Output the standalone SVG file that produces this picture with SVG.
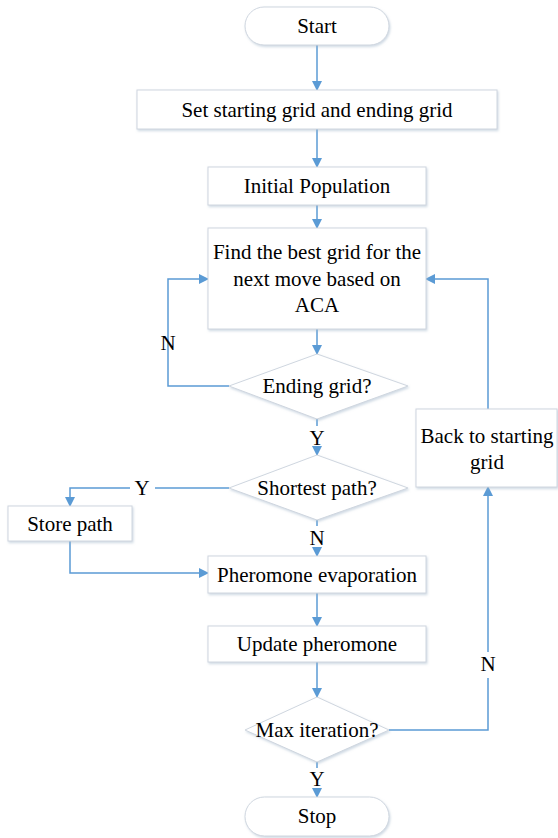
<svg xmlns="http://www.w3.org/2000/svg" width="558" height="838" viewBox="0 0 558 838">
<defs>
<marker id="ah" markerWidth="10" markerHeight="10" refX="9" refY="5" orient="auto" markerUnits="userSpaceOnUse">
<path d="M0,0 L10,5 L0,10 Z" fill="#5b9bd5"/>
</marker>
<filter id="sh" x="-10%" y="-10%" width="120%" height="130%">
<feDropShadow dx="1" dy="1.5" stdDeviation="1.2" flood-color="#9fb3c8" flood-opacity="0.5"/>
</filter>
</defs>
<style>
.box{fill:#fff;stroke:#cfd6df;stroke-width:1;filter:url(#sh)}
.t{font-family:"Liberation Serif","Times New Roman",serif;font-size:21px;fill:#000;text-anchor:middle}
.c{fill:none;stroke:#5b9bd5;stroke-width:1.5}
</style>
<rect width="558" height="838" fill="#fff"/>
<g id="connectors">
<path class="c" d="M317,45 V90" marker-end="url(#ah)"/>
<path class="c" d="M317,129 V167" marker-end="url(#ah)"/>
<path class="c" d="M317,205 V228" marker-end="url(#ah)"/>
<path class="c" d="M317,329 V354" marker-end="url(#ah)"/>
<path class="c" d="M229,386 H168 V279 H208" marker-end="url(#ah)"/>
<path class="c" d="M317,419 V426"/>
<path class="c" d="M317,450 V455" marker-end="url(#ah)"/>
<path class="c" d="M229,488 H155"/>
<path class="c" d="M130,488 H70 V506" marker-end="url(#ah)"/>
<path class="c" d="M317,520 V526"/>
<path class="c" d="M317,550 V556" marker-end="url(#ah)"/>
<path class="c" d="M70,541 V573 H208" marker-end="url(#ah)"/>
<path class="c" d="M317,593 V626" marker-end="url(#ah)"/>
<path class="c" d="M317,662 V697" marker-end="url(#ah)"/>
<path class="c" d="M389,730 H488 V678"/>
<path class="c" d="M488,652 V487" marker-end="url(#ah)"/>
<path class="c" d="M488,409 V279 H426" marker-end="url(#ah)"/>
<path class="c" d="M317,762 V768"/>
<path class="c" d="M317,791 V797" marker-end="url(#ah)"/>
</g>
<g id="start"><rect class="box" x="245" y="7" width="144" height="38" rx="19"/><text class="t" x="317" y="33">Start</text></g>
<g id="set"><rect class="box" x="137" y="90" width="360" height="39"/><text class="t" x="317" y="117">Set starting grid and ending grid</text></g>
<g id="init"><rect class="box" x="208" y="167" width="218" height="38"/><text class="t" x="317" y="193">Initial Population</text></g>
<g id="find"><rect class="box" x="208" y="228" width="218" height="101"/>
<text class="t" x="317" y="259">Find the best grid for the</text>
<text class="t" x="317" y="286">next move based on</text>
<text class="t" x="317" y="312">ACA</text></g>
<g id="ending"><polygon class="box" points="317,354 408,386 317,419 229,386"/><text class="t" x="317" y="393">Ending grid?</text></g>
<g id="shortest"><polygon class="box" points="317,455 408,488 317,520 229,488"/><text class="t" x="317" y="495">Shortest path?</text></g>
<g id="store"><rect class="box" x="8" y="506" width="124" height="35"/><text class="t" x="70" y="531">Store path</text></g>
<g id="evap"><rect class="box" x="208" y="556" width="218" height="37"/><text class="t" x="317" y="582">Pheromone evaporation</text></g>
<g id="update"><rect class="box" x="208" y="626" width="218" height="36"/><text class="t" x="317" y="651">Update pheromone</text></g>
<g id="max"><polygon class="box" points="317,697 389,730 317,762 245,730" /><text class="t" x="317" y="737">Max iteration?</text></g>
<g id="back"><rect class="box" x="416" y="409" width="141" height="78"/>
<text class="t" x="487" y="443">Back to starting</text>
<text class="t" x="487" y="469">grid</text></g>
<g id="stop"><rect class="box" x="245" y="797" width="144" height="39" rx="19.5"/><text class="t" x="317" y="823">Stop</text></g>
<g id="labels">
<text class="t" x="168" y="350">N</text>
<text class="t" x="317" y="445">Y</text>
<text class="t" x="142" y="495">Y</text>
<text class="t" x="317" y="545">N</text>
<text class="t" x="488" y="671">N</text>
<text class="t" x="317" y="786">Y</text>
</g>
</svg>
